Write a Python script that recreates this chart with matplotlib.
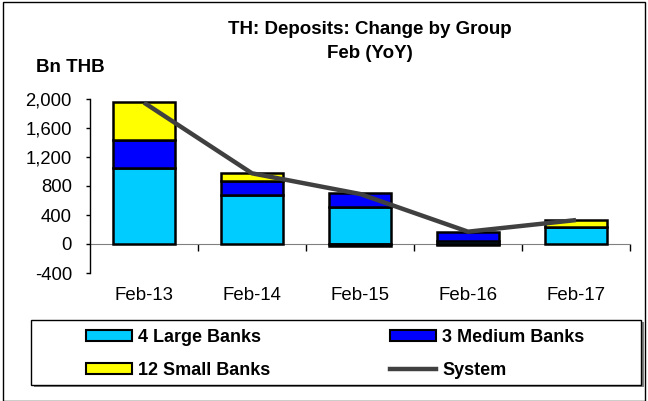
import matplotlib.pyplot as plt
from matplotlib.patches import Rectangle, Patch
from matplotlib.lines import Line2D
import matplotlib.ticker as mticker
import matplotlib.transforms as mtransforms

plt.rcParams['font.family'] = ['Liberation Sans', 'DejaVu Sans']

# data (Bn THB, YoY change in Feb)
cats = ['Feb-13', 'Feb-14', 'Feb-15', 'Feb-16', 'Feb-17']
large = [1055, 675, 510, 45, 235]
medium = [385, 190, 195, 120, 0]
small = [515, 110, -25, -10, 95]
system = [1950, 975, 690, 170, 330]

fig = plt.figure(figsize=(6.48, 4.01), dpi=100)
ax = fig.add_axes([90/648, 1-273/401, 540/648, 174/401])

x = list(range(len(cats)))
w = 0.58
ec = dict(edgecolor='black', linewidth=1.8)

# stack positives upward, negatives downward
pos_base = [0]*len(x)
neg_base = [0]*len(x)
for vals, col in [(large, '#00CCFF'), (medium, '#0000FF'), (small, '#FFFF00')]:
    bottoms = []
    for i, v in enumerate(vals):
        if v >= 0:
            bottoms.append(pos_base[i]); pos_base[i] += v
        else:
            bottoms.append(neg_base[i]); neg_base[i] += v
    ax.bar(x, vals, w, bottom=bottoms, color=col, zorder=3, **ec)

ax.plot(x, system, color='#404040', lw=3.2, zorder=4, solid_capstyle='butt')

ax.set_xlim(-0.5, 4.5)
ax.set_ylim(-400, 2000)
ax.yaxis.set_major_locator(mticker.MultipleLocator(400))
ax.yaxis.set_major_formatter(mticker.FuncFormatter(lambda v, p: f'{int(v):,}'))
ax.tick_params(axis='y', direction='out', length=3, width=1, labelsize=13.3, pad=10)

for s in ['top', 'right']:
    ax.spines[s].set_visible(False)
ax.spines['left'].set_linewidth(1)
ax.spines['bottom'].set_position(('data', 0))
ax.spines['bottom'].set_color('#808080')
ax.spines['bottom'].set_zorder(2)
ax.set_xticks([0.5, 1.5, 2.5, 3.5, 4.5])
ax.set_xticklabels([])
ax.tick_params(axis='x', direction='out', length=5, width=1, color='black')

trans = mtransforms.blended_transform_factory(ax.transData, fig.transFigure)
for i, c in enumerate(cats):
    ax.text(i, 1-295/401, c, transform=trans, ha='center', va='center', fontsize=13.4)

fig.text(0.571, 1-30/401, 'TH: Deposits: Change by Group', ha='center', va='center',
         fontsize=13.5, fontweight='bold')
fig.text(0.571, 1-54/401, 'Feb (YoY)', ha='center', va='center',
         fontsize=13.5, fontweight='bold')
fig.text(36/648, 1-68/401, 'Bn THB', ha='left', va='center', fontsize=13.5, fontweight='bold')

# legend box with shadow
fig.patches.append(Rectangle((34/648, 1-387/401), 610/648, 65/401, transform=fig.transFigure,
                             facecolor='#808080', edgecolor='none', zorder=1))
fig.patches.append(Rectangle((31/648, 1-385/401), 610/648, 65/401, transform=fig.transFigure,
                             facecolor='white', edgecolor='black', linewidth=1, zorder=2))
handles = [Patch(facecolor='#00CCFF', edgecolor='black', linewidth=1.5),
           Patch(facecolor='#FFFF00', edgecolor='black', linewidth=1.5),
           Patch(facecolor='#0000FF', edgecolor='black', linewidth=1.5),
           Line2D([0], [0], color='#404040', lw=3.2)]
labels = ['4 Large Banks', '12 Small Banks', '3 Medium Banks', 'System']
leg = fig.legend(handles, labels, ncol=2, loc='center', bbox_to_anchor=(0.517, 1-354/401),
                 frameon=False, prop=dict(size=13, weight='bold'), handlelength=2.55,
                 handleheight=0.5, handletextpad=0.33, columnspacing=6.65, labelspacing=0.88)

# figure outer border
fig.patches.append(Rectangle((0.004, 0.0), 0.992, 0.995, transform=fig.transFigure,
                             facecolor='none', edgecolor='black', linewidth=1, zorder=0))

fig.savefig('out.png', dpi=100)
